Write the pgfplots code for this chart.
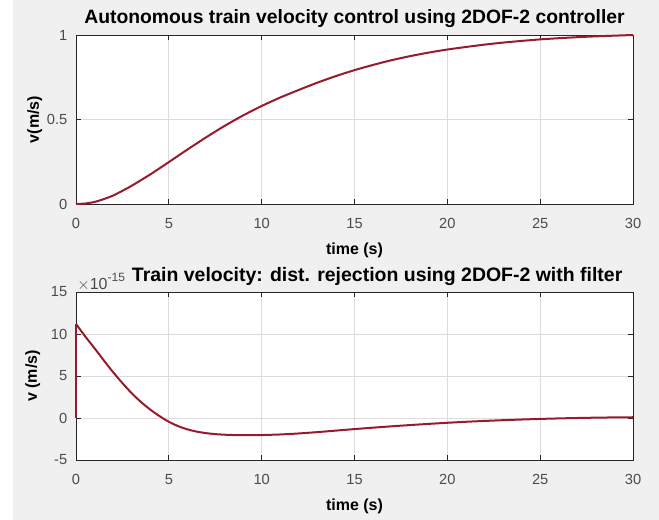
\documentclass[border=0pt]{standalone}
\usepackage{fontspec}
\setmainfont{Liberation Sans}
\usepackage{pgfplots}
\pgfplotsset{compat=1.18}

\definecolor{figbg}{RGB}{240,240,240}
\definecolor{linered}{RGB}{150,28,44}
\definecolor{ticktext}{RGB}{75,75,75}
\definecolor{axline}{RGB}{38,38,38}
\definecolor{gridc}{RGB}{220,220,220}

% 1 px of the reference = 0.75pt
\pgfplotsset{
  mlab/.style={
    scale only axis, width=417.75pt, anchor=south west, clip=false,
    xmin=0, xmax=30, xtick={0,5,...,30},
    grid=major, major grid style={gridc, line width=0.6pt},
    axis line style={axline, line width=0.7pt},
    tick style={axline, line width=0.7pt},
    tick align=inside, xtick pos=both, ytick pos=both, major tick length=4pt,
    ticklabel style={font=\fontsize{11}{13}\selectfont, text=ticktext},
    xticklabel style={yshift=-7pt},
    yticklabel style={xshift=-3pt},
    /pgf/number format/assume math mode=true,
    label style={font=\bfseries\fontsize{12}{14}\selectfont},
    axis background/.style={fill=white},
  },
  vline/.style={linered, line width=1.5pt, line join=round, mark=none, smooth, tension=0.4},
}

\begin{document}
\begin{tikzpicture}
\fill[white] (0pt,0pt) rectangle (494.25pt,390pt);
\fill[figbg] (9.75pt,0pt) rectangle (494.25pt,390pt);

% top: step response
\begin{axis}[mlab, at={(57pt,237pt)}, height=126.75pt,
  ymin=0, ymax=1, ytick={0,0.5,1},
  xlabel={time (s)}, ylabel={v(m/s)},
  x label style={at={(axis description cs:0.5,-0.272)}, anchor=center},
  y label style={at={(axis description cs:-0.074,0.5)}, anchor=center},
]
\addplot[vline] coordinates {
 (0,0) (0.5,0.003) (1,0.012) (1.5,0.029) (2,0.050) (2.5,0.078) (3,0.108)
 (4,0.175) (5,0.248) (6,0.322) (7,0.394) (8,0.462) (9,0.524) (10,0.580)
 (11,0.630) (12,0.675) (13,0.718) (14,0.757) (15,0.792) (16,0.823)
 (17,0.851) (18,0.875) (19,0.896) (20,0.914) (21,0.929) (22,0.943)
 (23,0.955) (24,0.965) (25,0.974) (26,0.981) (27,0.987) (28,0.992)
 (29,0.996) (30,1.000)
};
\node[anchor=center, font=\bfseries\fontsize{14.5}{16}\selectfont, inner sep=0pt]
  at (axis description cs:0.5,1.1) {Autonomous train velocity control using 2DOF-2 controller};
\end{axis}

% bottom: disturbance rejection, values in units of 1e-15
\begin{axis}[mlab, at={(57pt,45pt)}, height=126pt,
  ymin=-5, ymax=15, ytick={-5,0,5,10,15},
  xlabel={time (s)}, ylabel={v (m/s)},
  x label style={at={(axis description cs:0.5,-0.274)}, anchor=center},
  y label style={at={(axis description cs:-0.0775,0.5)}, anchor=center},
]
\addplot[linered, line width=1.5pt, mark=none] coordinates {(0,0) (0,11.2)};
\addplot[vline] coordinates {
 (0,11.2) (0.5,9.7) (1,8.3) (1.5,6.85) (2,5.45) (2.5,4.15) (3,2.95)
 (3.5,1.9) (4,1.0) (4.5,0.22) (5,-0.45) (5.5,-0.97) (6,-1.35) (6.5,-1.62)
 (7,-1.8) (7.5,-1.92) (8,-1.99) (8.5,-2.03) (9,-2.05) (9.5,-2.05) (10,-2.03)
 (11,-1.96) (12,-1.84) (13,-1.68) (14,-1.5) (15,-1.32) (16,-1.15) (17,-0.99)
 (18,-0.84) (19,-0.7) (20,-0.57) (21,-0.45) (22,-0.35) (23,-0.26) (24,-0.18)
 (25,-0.11) (26,-0.05) (27,0.0) (28,0.04) (29,0.07) (30,0.09)
};
\node[anchor=west, font=\fontsize{12}{14}\selectfont, text=ticktext, inner sep=0pt]
  at (axis description cs:0.002,1.058) {$\times$10\raisebox{0.9ex}{\fontsize{9}{10}\selectfont -15}};
\node[anchor=west, font=\bfseries\fontsize{14.6}{16}\selectfont, inner sep=0pt]
  at (axis description cs:0.1,1.09) {Train velocity: dist. rejection using 2DOF-2 with filter};
\end{axis}

\pgfresetboundingbox
\useasboundingbox (0pt,0pt) rectangle (494.25pt,390pt);
\end{tikzpicture}
\end{document}
